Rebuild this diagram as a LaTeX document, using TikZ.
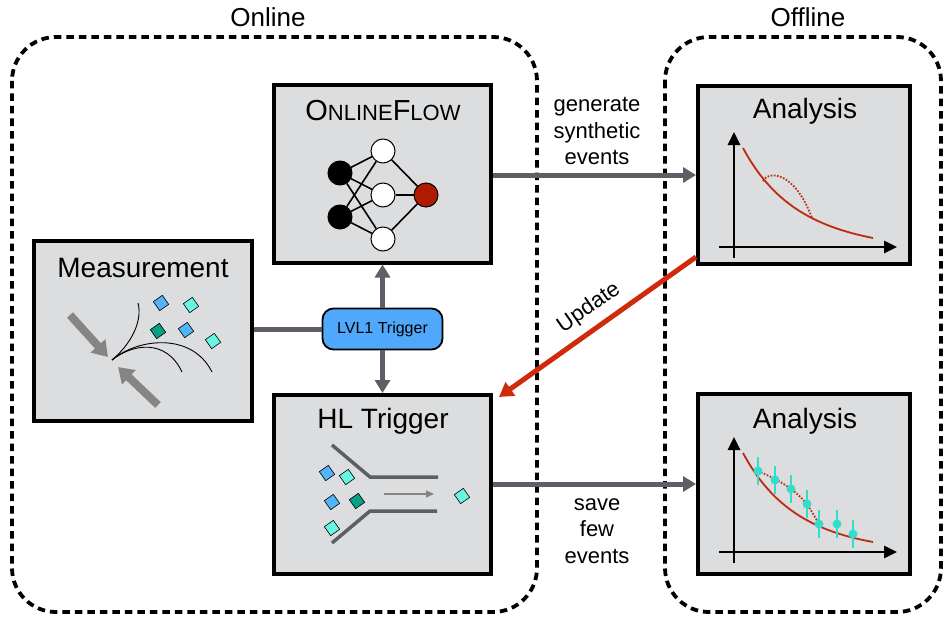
\documentclass[tikz,border=0pt]{standalone}
\usepackage{fontspec}
\setmainfont{Liberation Sans}
\usetikzlibrary{arrows.meta,calc}

\definecolor{panelgray}{HTML}{DCDDDF}
\definecolor{linkgray}{HTML}{5C6066}
\definecolor{arrowgray}{HTML}{858585}
\definecolor{updred}{HTML}{D02A0C}
\definecolor{curvered}{HTML}{BE2A10}
\definecolor{nodered}{HTML}{B01A00}
\definecolor{trigblue}{HTML}{4FA8FA}
\definecolor{sqblue}{HTML}{52B4FA}
\definecolor{sqcyan}{HTML}{6AF5E2}
\definecolor{sqteal}{HTML}{08A084}
\definecolor{datacyan}{HTML}{33DDCC}

\newcommand\paneltitle{\fontsize{28}{32}\selectfont}
\newcommand\labelfont{\fontsize{22}{26.5}\selectfont}

\tikzset{
  panel/.style={draw=black, line width=4pt, fill=panelgray, rectangle, inner sep=0pt},
  region/.style={draw=black, line width=3.8pt, dash pattern=on 7.5pt off 5pt, rounded corners=44pt},
  link/.style={draw=linkgray, line width=5pt},
  linkarrow/.style={link, -{Triangle[length=13pt,width=15pt]}},
  nnode/.style={circle, draw=black, line width=1pt, minimum size=24pt, inner sep=0pt},
  nedge/.style={draw=black, line width=1.6pt},
  sq/.style={draw=black, line width=0.6pt, fill=#1, minimum size=11pt, inner sep=0pt, rotate=35},
  beam/.style={draw=arrowgray, line width=8pt, -{Triangle[length=15pt,width=19pt]}},
  track/.style={draw=black, line width=0.9pt},
  funnel/.style={draw=linkgray, line width=3.5pt},
  axis/.style={draw=black, line width=2.6pt, -{Triangle[length=13pt,width=12pt]}},
  fit curve/.style={draw=curvered, line width=1.8pt},
  bump/.style={draw=curvered, line width=1.8pt, dash pattern=on 1.6pt off 1.6pt},
  errbar/.style={draw=datacyan, line width=2pt},
  datapt/.style={circle, fill=datacyan, minimum size=9pt, inner sep=0pt},
}

\begin{document}
\begin{tikzpicture}[x=1pt, y=-1pt]
\useasboundingbox (0,0) rectangle (944,623);

% dashed regions and their headings
\draw[region] (12,37) rectangle (537,612);
\draw[region] (665,37) rectangle (941,612);
\node[font=\fontsize{26}{30}\selectfont] (onl) at (268,17) {Online};
\node[font=\fontsize{26}{30}\selectfont] (offl) at (808,17) {Offline};

% panels
\node[panel, minimum width=217pt, minimum height=177pt] (flow) at (382.5,174) {};
\node[panel, minimum width=218pt, minimum height=180pt] (meas) at (143,331) {};
\node[panel, minimum width=217pt, minimum height=179pt] (hlt)  at (382.5,484.5) {};
\node[panel, minimum width=212pt, minimum height=178pt] (ana1) at (804,175) {};
\node[panel, minimum width=212pt, minimum height=180pt] (ana2) at (804,484) {};

% panel titles
\node (flowtitle) at (383,111) {{\fontsize{29}{32}\selectfont O}{\fontsize{22}{32}\selectfont NLINE}{\fontsize{29}{32}\selectfont F}{\fontsize{22}{32}\selectfont LOW}};
\node[font=\paneltitle] (meastitle) at (143,268) {Measurement};
\node[font=\paneltitle] (hlttitle) at (383,421) {HL Trigger};
\node[font=\paneltitle] (ana1title) at (805,111) {Analysis};
\node[font=\paneltitle] (ana2title) at (805,421) {Analysis};

% small network inside the flow panel
\node[nnode, fill=black] (i1) at (340,173) {};
\node[nnode, fill=black] (i2) at (340,217) {};
\node[nnode, fill=white] (h1) at (383,151) {};
\node[nnode, fill=white] (h2) at (383,195) {};
\node[nnode, fill=white] (h3) at (383,239) {};
\node[nnode, fill=nodered] (o1) at (426,195) {};
\foreach \a in {i1,i2}{\foreach \b in {h1,h2,h3}{\draw[nedge] (\a) -- (\b);}}
\foreach \b in {h1,h2,h3}{\draw[nedge] (\b) -- (o1);}

% collision sketch
\draw[beam] (70,315) -- (108,357);
\draw[beam] (158,405) -- (118,367);
\draw[track] (112,360) .. controls (130,345) and (143,322) .. (138,303);
\draw[track] (112,360) .. controls (132,344) and (166,338) .. (182,372);
\draw[track] (112,360) .. controls (138,338) and (192,332) .. (212,372);
\node[sq=sqblue] (m1) at (161,303) {};
\node[sq=sqcyan] (m2) at (191,305) {};
\node[sq=sqteal] (m3) at (158,331) {};
\node[sq=sqblue] (m4) at (186,330) {};
\node[sq=sqcyan] (m5) at (213,341) {};

% trigger funnel
\draw[funnel] (332,445) -- (370,477) -- (438,477);
\draw[funnel] (332,543) -- (370,511) -- (437,511);
\draw[draw=arrowgray, line width=1.5pt, -{Triangle[length=8pt,width=7pt]}] (384,494) -- (434,494);
\node[sq=sqblue] (t1) at (327,473) {};
\node[sq=sqcyan] (t2) at (347,477) {};
\node[sq=sqblue] (t3) at (332,502) {};
\node[sq=sqteal] (t4) at (357,501) {};
\node[sq=sqcyan] (t5) at (332,528) {};
\node[sq=sqcyan] (t6) at (462,496) {};

% level-1 trigger and its links
\node[draw=black, line width=1.8pt, fill=trigblue, rounded corners=11pt,
      minimum width=120pt, minimum height=41pt, inner sep=0pt,
      font=\fontsize{16}{18}\selectfont] (lvl) at (382.5,329) {LVL1 Trigger};
\draw[link] (meas.east |- lvl.west) -- (lvl.west);
\draw[linkarrow] (lvl.north) -- (flow.south);
\draw[linkarrow] (lvl.south) -- (hlt.north);

% flows towards offline analysis
\draw[linkarrow] (flow.east |- ana1.west) -- (ana1.west);
\draw[linkarrow] (hlt.east |- ana2.west) -- (ana2.west);
\node[font=\labelfont, align=center] (genlbl) at (597,131) {generate\\synthetic\\events};
\node[font=\labelfont, align=center] (savelbl) at (597,531) {save\\few\\events};

% update loop
\coordinate (updfrom) at ($(ana1.south west)+(0,-9)$);
\coordinate (updto) at ($(hlt.north east)+(6,4)$);
\draw[draw=updred, line width=5pt, -{Triangle[length=14pt,width=16pt]}] (updfrom) -- (updto);
\node[font=\labelfont, rotate=35] (updlbl) at (589,308) {Update};

% upper plot: falling spectrum with a bump
\draw[axis] (734,258) -- (734,132);
\draw[axis] (719,247) -- (897,247);
\draw[fit curve] (743,148) .. controls (772,202) and (812,226) .. (873,238);
\draw[bump] (763,181) .. controls (769,170) and (795,172) .. (812,218);

% lower plot: spectrum with data points
\draw[axis] (734,563) -- (734,437);
\draw[axis] (719,552) -- (897,552);
\draw[fit curve] (743,453) .. controls (772,507) and (812,531) .. (873,542);
\draw[bump] plot[smooth] coordinates {(758,471) (775,479) (791,489) (806,503) (819,524)};
\foreach \px/\py [count=\k] in {758/471, 775/480, 791/489, 807/504, 819/524, 837/524, 853/534}{
  \draw[errbar] (\px,\py-14) -- (\px,\py+14);
  \node[datapt] (dp\k) at (\px,\py) {};
}
\end{tikzpicture}
\end{document}
